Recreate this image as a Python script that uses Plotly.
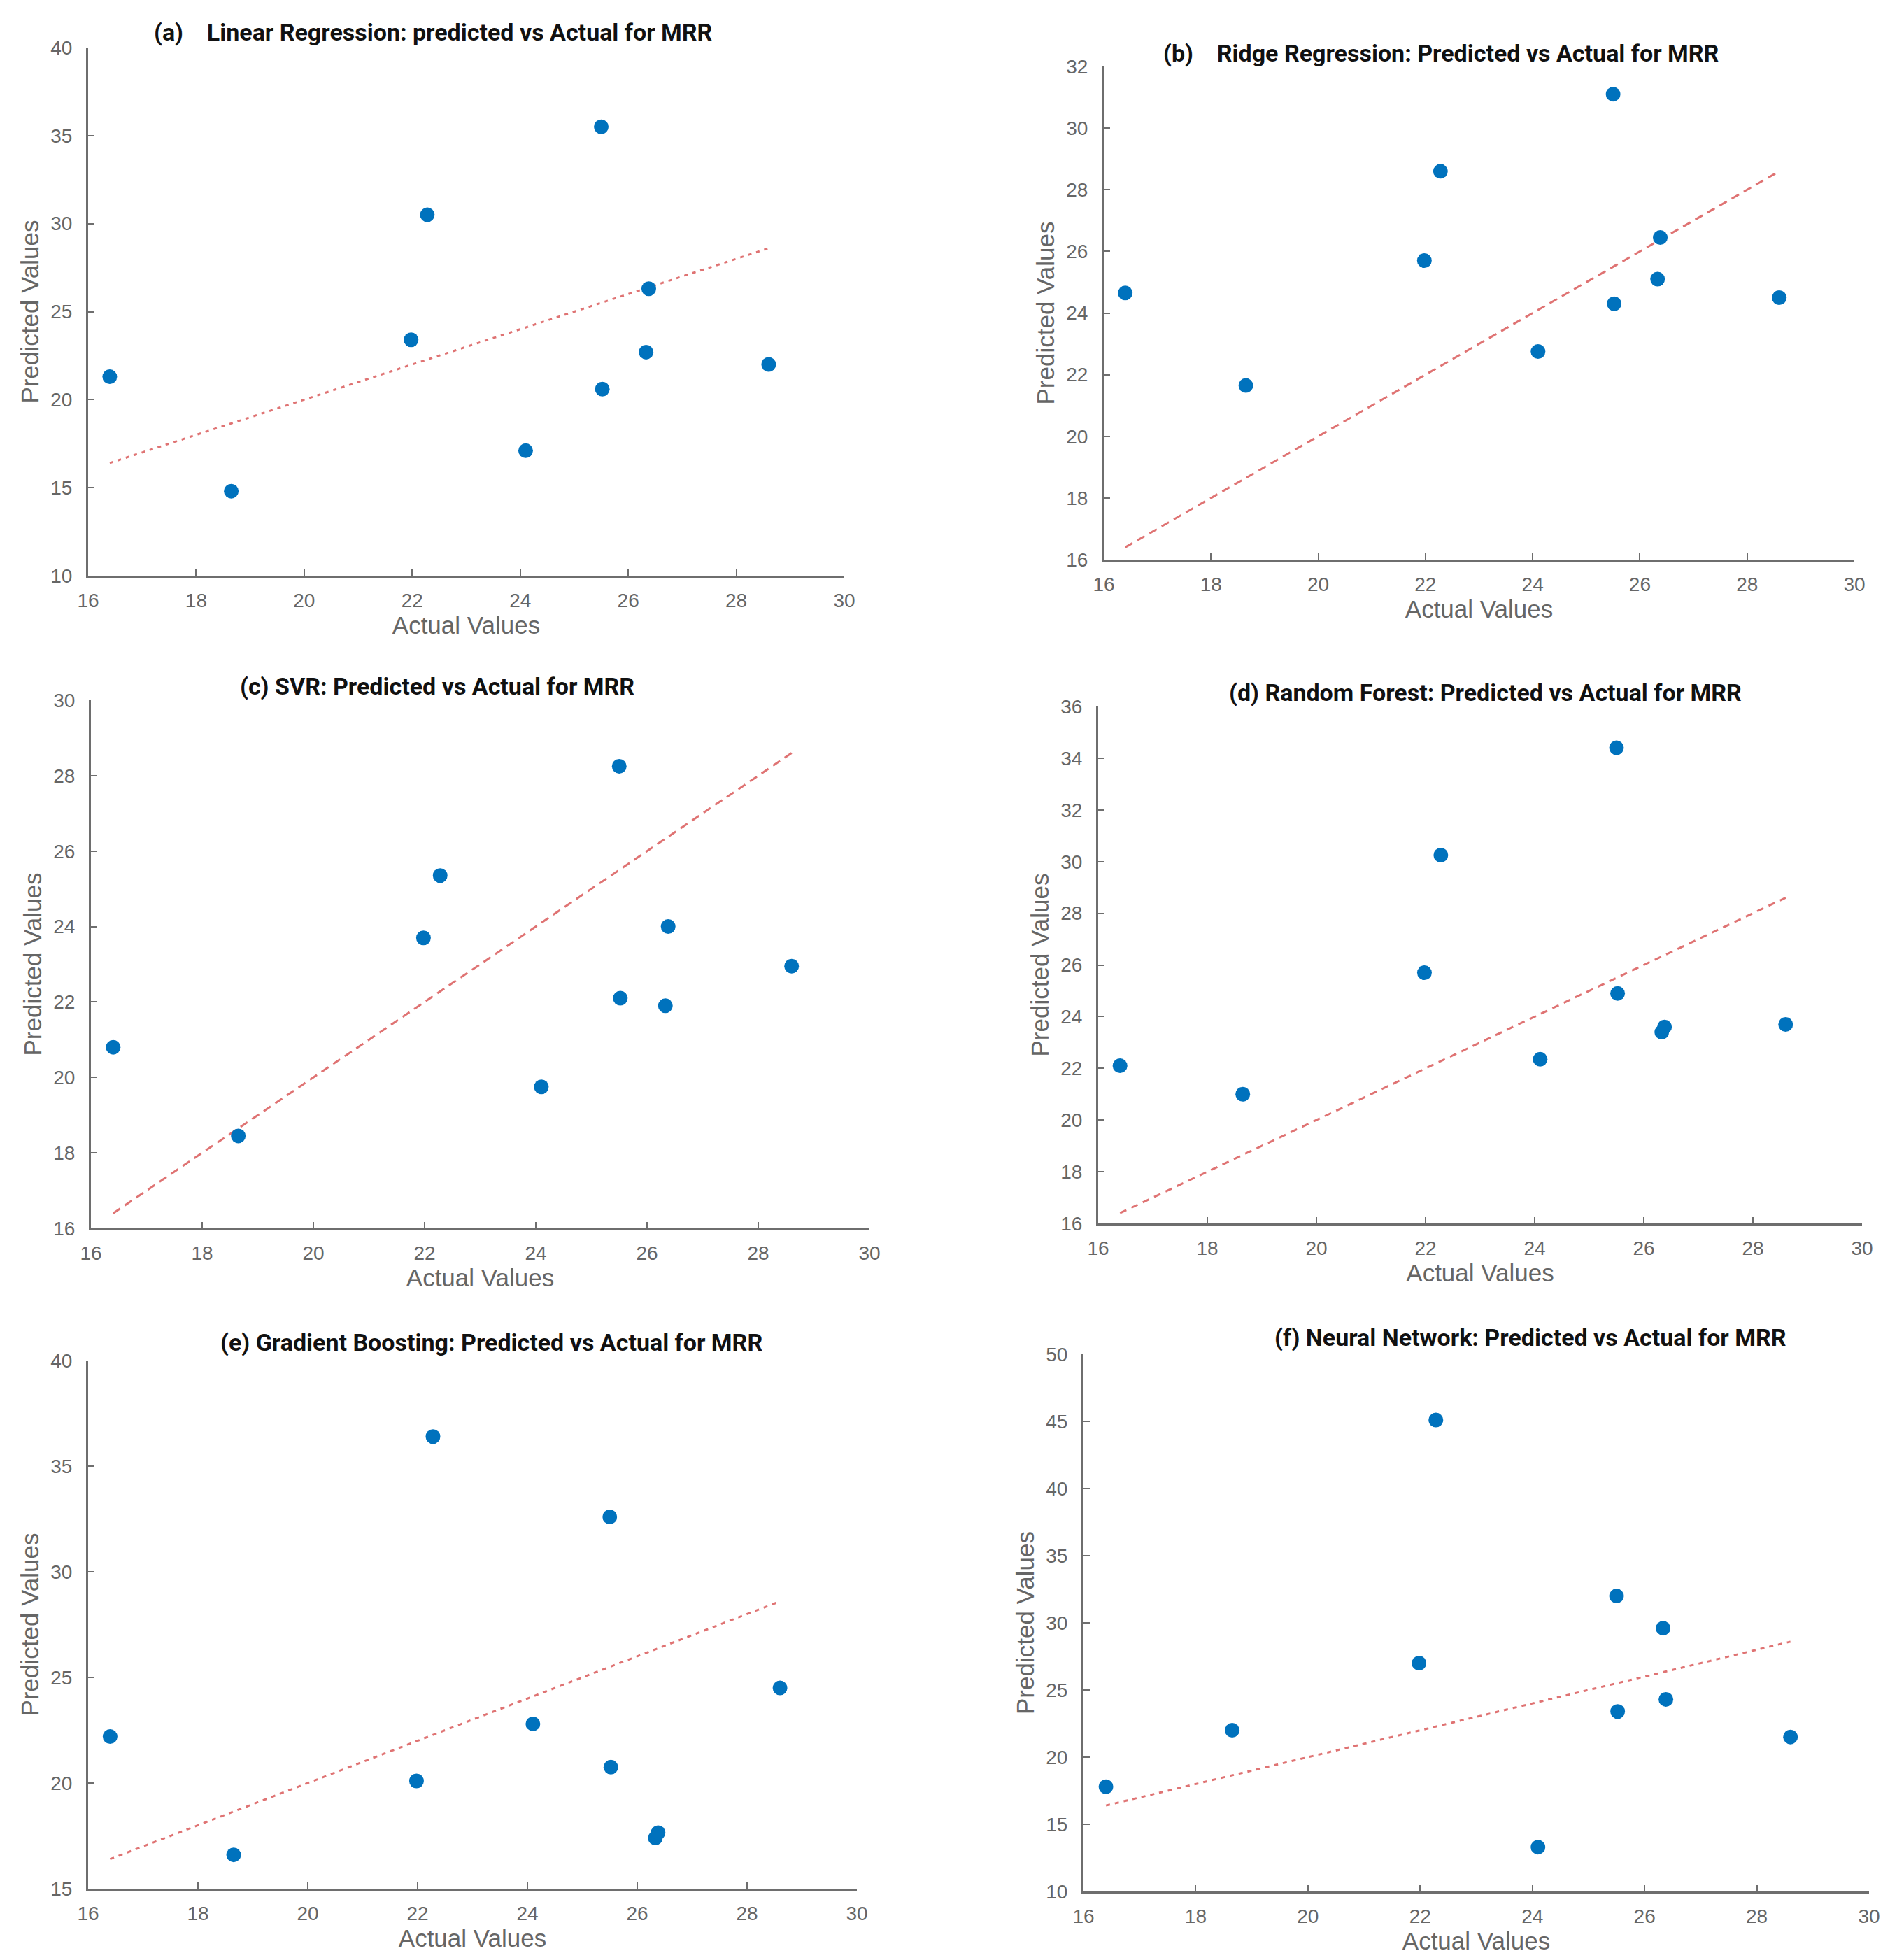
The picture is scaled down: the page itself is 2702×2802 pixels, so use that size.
import plotly.graph_objects as go

# actual MRR values (same for all six panels)
actual = [16.4, 18.65, 21.98, 22.28, 24.1, 25.5, 25.52, 26.33, 26.38, 28.6]

pred_lr = [21.3, 14.8, 23.4, 30.5, 17.1, 35.5, 20.6, 22.7, 26.3, 22.0]
pred_ridge = [24.65, 21.65, 25.7, 28.6, 22.75, 31.1, 24.3, 25.1, 26.45, 24.5]
pred_svr = [20.8, 18.45, 23.7, 25.35, 19.75, 28.25, 22.1, 21.9, 24.0, 22.95]
pred_rf = [22.1, 21.0, 25.7, 30.25, 22.35, 34.4, 24.9, 23.4, 23.6, 23.7]
pred_gb = [22.2, 16.6, 20.1, 36.4, 22.8, 32.6, 20.75, 17.4, 17.65, 24.5]
pred_nn = [17.8, 22.0, 27.0, 45.1, 13.3, 32.0, 23.4, 29.6, 24.3, 21.5]

titles = [
    "(a)    Linear Regression: predicted vs Actual for MRR",
    "(b)    Ridge Regression: Predicted vs Actual for MRR",
    "(c) SVR: Predicted vs Actual for MRR",
    "(d) Random Forest: Predicted vs Actual for MRR",
    "(e) Gradient Boosting: Predicted vs Actual for MRR",
    "(f) Neural Network: Predicted vs Actual for MRR",
]
x_ticks = [16, 18, 20, 22, 24, 26, 28, 30]
y_ranges = [(10, 40, 5), (16, 32, 2), (16, 30, 2), (16, 36, 2), (15, 40, 5), (10, 50, 5)]
preds = [pred_lr, pred_ridge, pred_svr, pred_rf, pred_gb, pred_nn]

# page is 2702 x 2802, the body keeps an 8px margin round the figure
PAGE_W, PAGE_H, OFF = 2702, 2802, 8
W, H = PAGE_W - 2 * OFF, PAGE_H - 2 * OFF

# axes boxes in page pixels: left, right, top, bottom
boxes = [
    (126, 1207, 68, 823),
    (1578, 2651, 95, 800),
    (130, 1243, 1001, 1756),
    (1570, 2662, 1010, 1749),
    (126, 1225, 1945, 2700),
    (1549, 2672, 1936, 2704),
]
title_pos = [(619, 46), (2060, 76), (625, 981), (2123, 990), (702, 1919), (2188, 1912)]
dashes = ["5px,7px", "12px,8px", "12px,8px", "10px,8px", "6px,7px", "6px,7px"]
xtitle_standoff = [8, 8, 8, 8, 2, 2]


def px_x(p):
    return (p - OFF) / W


def px_y(p):
    return 1 - (p - OFF) / H


AX_COL = "#6e6e6e"
TXT_COL = "#666666"
BLUE = "#0072BD"
FONT = "Liberation Sans"

fig = go.Figure()
line_x = [min(actual), max(actual)]

for i, (pred, box, yr) in enumerate(zip(preds, boxes, y_ranges)):
    n = "" if i == 0 else str(i + 1)
    fig.add_trace(go.Scatter(
        x=line_x, y=line_x, mode="lines",
        line=dict(color="rgba(215,80,80,0.8)", width=3, dash=dashes[i]),
        xaxis="x" + n, yaxis="y" + n, showlegend=False))
    fig.add_trace(go.Scatter(
        x=actual, y=pred, mode="markers",
        marker=dict(color=BLUE, size=21),
        xaxis="x" + n, yaxis="y" + n, showlegend=False))

    l, r, t, b = box
    ticks_y = list(range(yr[0], yr[1] + 1, yr[2]))
    common = dict(
        showline=True, linecolor=AX_COL, linewidth=3, mirror=False,
        showgrid=False, zeroline=False, ticks="inside", ticklen=9,
        tickwidth=2, tickcolor=AX_COL, automargin=False,
        tickfont=dict(family=FONT, size=28, color=TXT_COL),
    )
    fig.layout["xaxis" + n] = dict(
        common, domain=[px_x(l), px_x(r)], range=[16, 30], tickvals=x_ticks,
        anchor="y" + n, ticklabelstandoff=8,
        title=dict(text="Actual Values", standoff=xtitle_standoff[i],
                   font=dict(family=FONT, size=35, color=TXT_COL)))
    fig.layout["yaxis" + n] = dict(
        common, domain=[px_y(b), px_y(t)], range=[yr[0], yr[1]],
        tickvals=ticks_y, anchor="x" + n, ticklabelstandoff=14,
        title=dict(text="Predicted Values", standoff=6,
                   font=dict(family=FONT, size=35, color=TXT_COL)))

    tx, ty = title_pos[i]
    fig.add_annotation(
        text="<b>" + titles[i] + "</b>", x=px_x(tx), y=px_y(ty),
        xref="paper", yref="paper", showarrow=False,
        xanchor="center", yanchor="middle",
        font=dict(family="Roboto", size=34, color="#111111"))

fig.update_layout(
    width=W, height=H, margin=dict(l=0, r=0, t=0, b=0, autoexpand=False),
    paper_bgcolor="white", plot_bgcolor="white",
)

fig.write_html("out.html")
